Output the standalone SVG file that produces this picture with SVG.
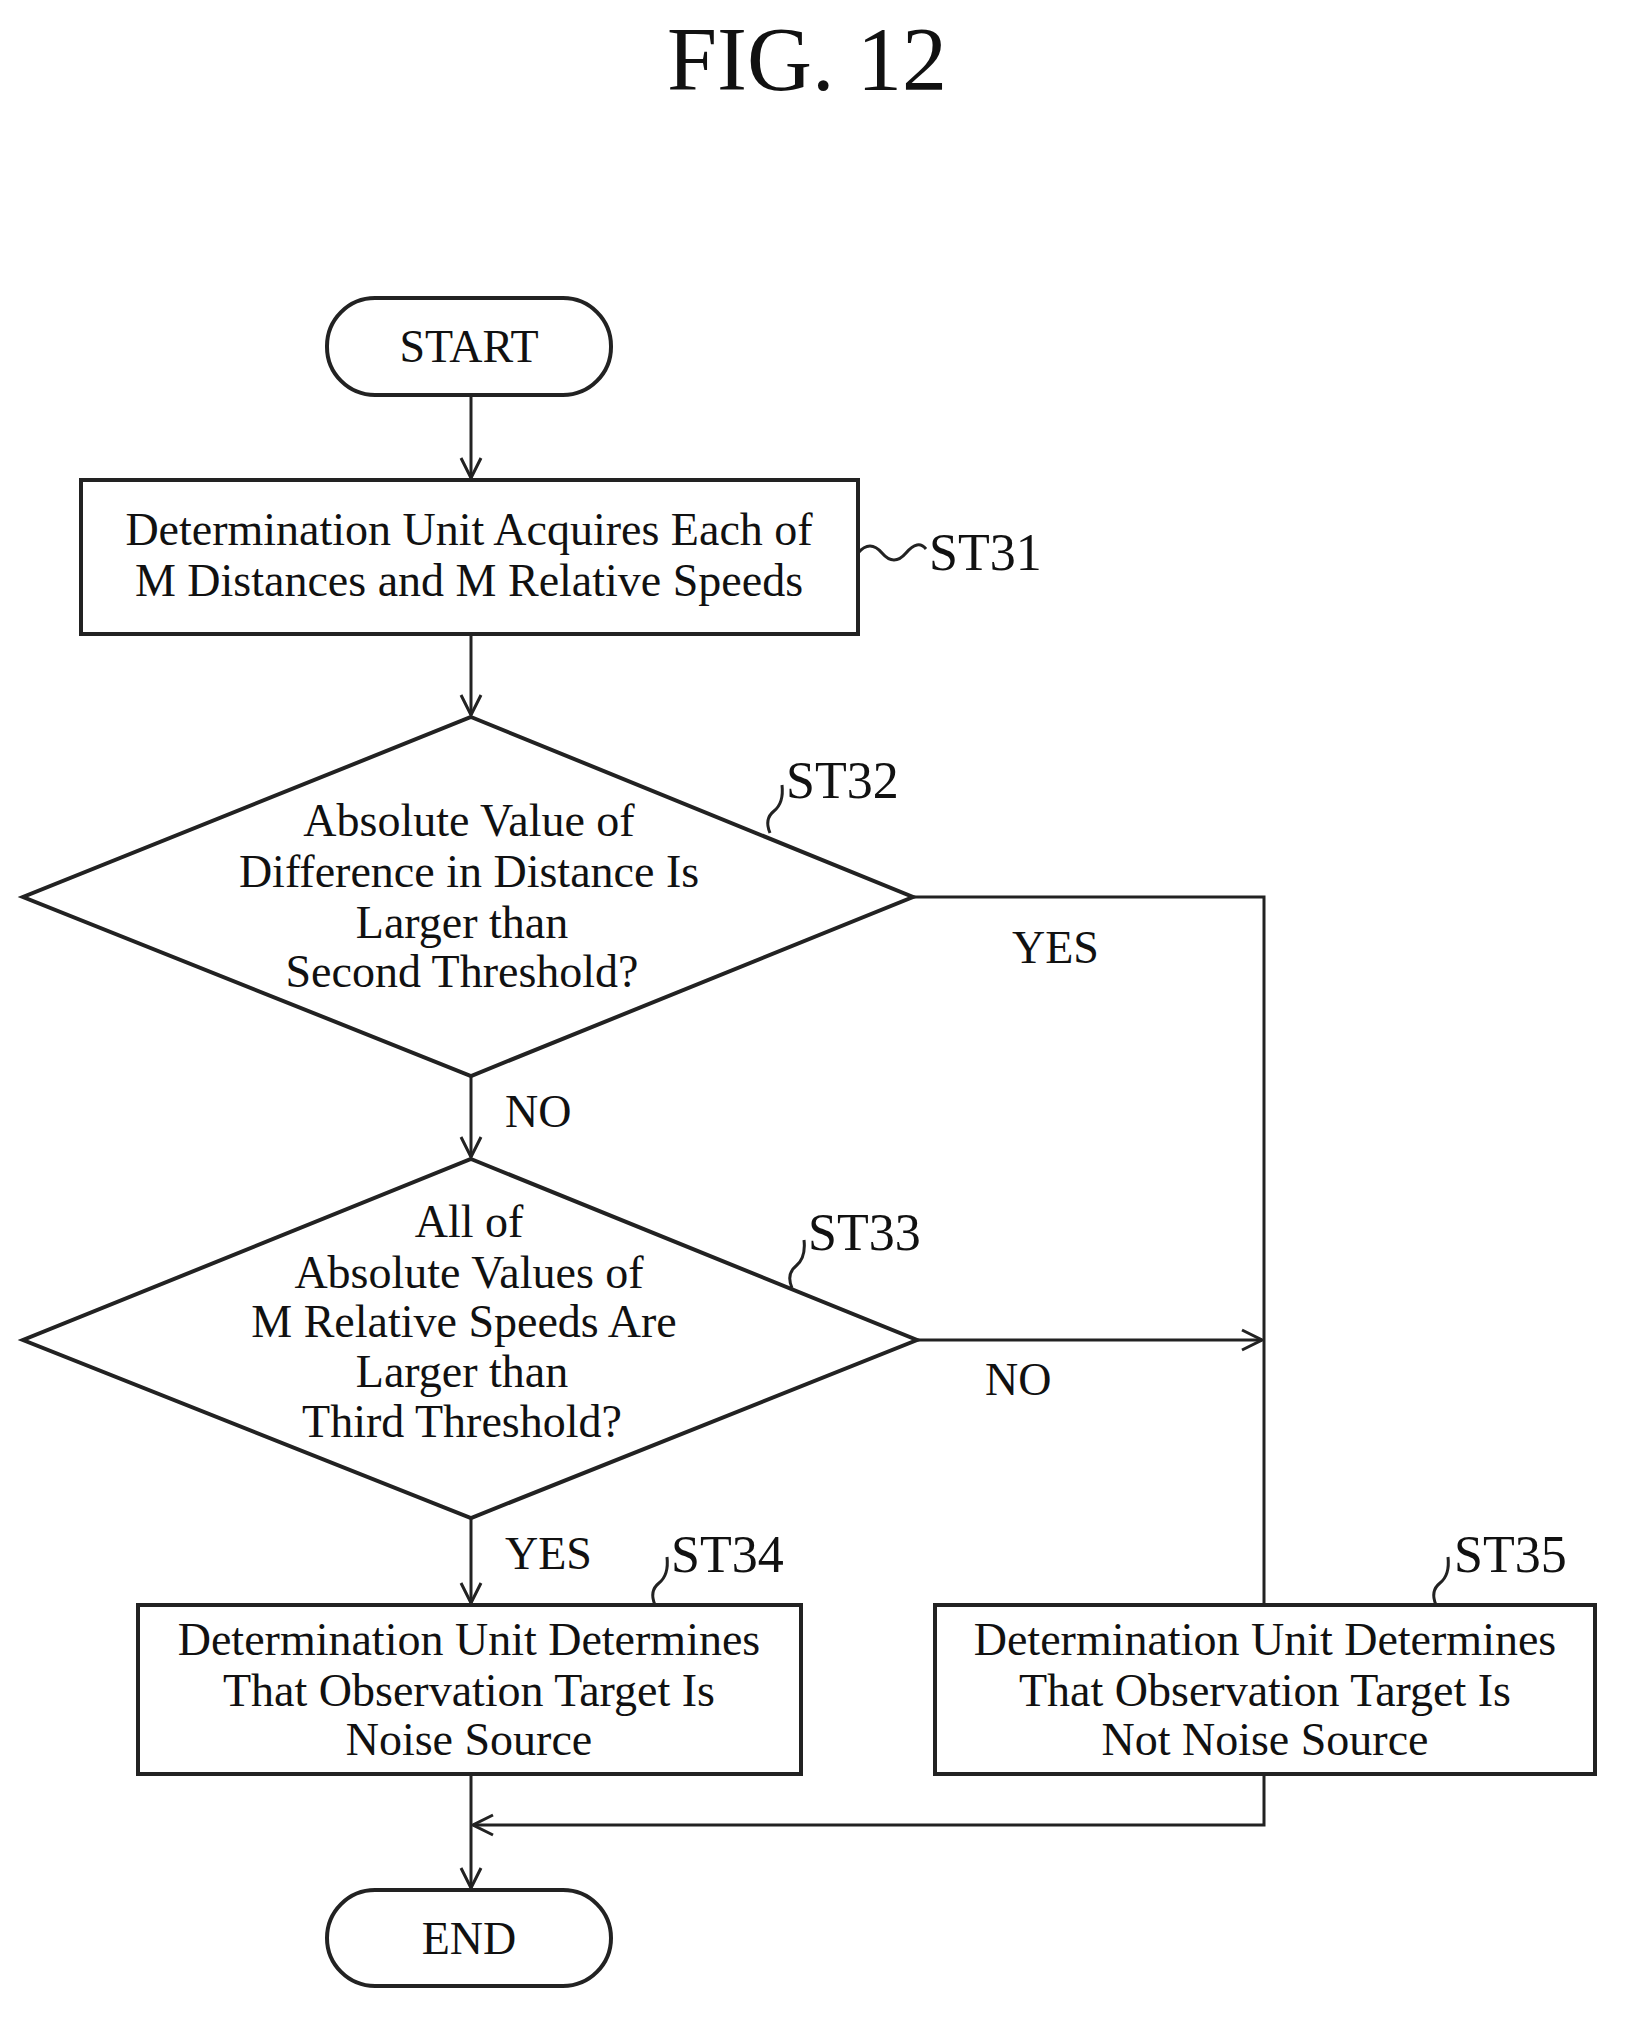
<svg xmlns="http://www.w3.org/2000/svg" width="1627" height="2021" viewBox="0 0 1627 2021">
<style>
.s{fill:#fff;stroke:#222;stroke-width:4}
.c{fill:none;stroke:#222;stroke-width:3}
text{font-family:"Liberation Serif",serif;font-size:46px;fill:#111}
.m{text-anchor:middle}
.l{font-size:52px}
</style>
<defs><marker id="b" viewBox="0 0 24 24" markerWidth="24" markerHeight="24" refX="22" refY="12" orient="auto" markerUnits="userSpaceOnUse"><path d="M2,2 L22,12 L2,22" fill="none" stroke="#222" stroke-width="3"/></marker></defs>
<rect width="1627" height="2021" fill="#fff"/>
<text x="807" y="90" class="m" style="font-size:90px">FIG. 12</text>
<g id="connectors" class="c">
<path d="M471,395 V478" marker-end="url(#b)"/>
<path d="M471,634 V715" marker-end="url(#b)"/>
<path d="M471,1076 V1157" marker-end="url(#b)"/>
<path d="M913,897 H1264 V1605"/>
<path d="M917,1340 H1262" marker-end="url(#b)"/>
<path d="M471,1518 V1603" marker-end="url(#b)"/>
<path d="M1264,1774 V1825 H473" marker-end="url(#b)"/>
<path d="M471,1774 V1888" marker-end="url(#b)"/>
<path d="M858,553 q12,-14 24,0 t24,0 t20,-4"/>
<path d="M770,833 q-6,-14 4,-22 t8,-26"/>
<path d="M792,1288 q-6,-14 4,-22 t8,-26"/>
<path d="M655,1605 q-6,-14 4,-22 t8,-26"/>
<path d="M1436,1605 q-6,-14 4,-22 t8,-26"/>
</g>
<g id="start"><rect class="s" x="327" y="298" width="284" height="97" rx="48"/><text x="469" y="362" class="m">START</text></g>
<g id="st31"><rect class="s" x="81" y="480" width="777" height="154"/><text x="469" y="545" class="m">Determination Unit Acquires Each of</text><text x="469" y="596" class="m">M Distances and M Relative Speeds</text><text x="929" y="570" class="l">ST31</text></g>
<g id="st32"><path class="s" d="M471,717 L913,897 L471,1076 L23,897 Z"/><text x="469" y="836" class="m">Absolute Value of</text><text x="469" y="887" class="m">Difference in Distance Is</text><text x="462" y="938" class="m">Larger than</text><text x="462" y="987" class="m">Second Threshold?</text><text x="786" y="798" class="l">ST32</text><text x="1012" y="963">YES</text><text x="505" y="1127">NO</text></g>
<g id="st33"><path class="s" d="M471,1159 L917,1340 L471,1518 L23,1340 Z"/><text x="469" y="1237" class="m">All of</text><text x="469" y="1288" class="m">Absolute Values of</text><text x="464" y="1337" class="m">M Relative Speeds Are</text><text x="462" y="1387" class="m">Larger than</text><text x="462" y="1437" class="m">Third Threshold?</text><text x="808" y="1250" class="l">ST33</text><text x="985" y="1395">NO</text><text x="505" y="1569">YES</text></g>
<g id="st34"><rect class="s" x="138" y="1605" width="663" height="169"/><text x="469" y="1655" class="m">Determination Unit Determines</text><text x="469" y="1706" class="m">That Observation Target Is</text><text x="469" y="1755" class="m">Noise Source</text><text x="671" y="1572" class="l">ST34</text></g>
<g id="st35"><rect class="s" x="935" y="1605" width="660" height="169"/><text x="1265" y="1655" class="m">Determination Unit Determines</text><text x="1265" y="1706" class="m">That Observation Target Is</text><text x="1265" y="1755" class="m">Not Noise Source</text><text x="1454" y="1572" class="l">ST35</text></g>
<g id="end"><rect class="s" x="327" y="1890" width="284" height="96" rx="48"/><text x="469" y="1954" class="m">END</text></g>
</svg>
